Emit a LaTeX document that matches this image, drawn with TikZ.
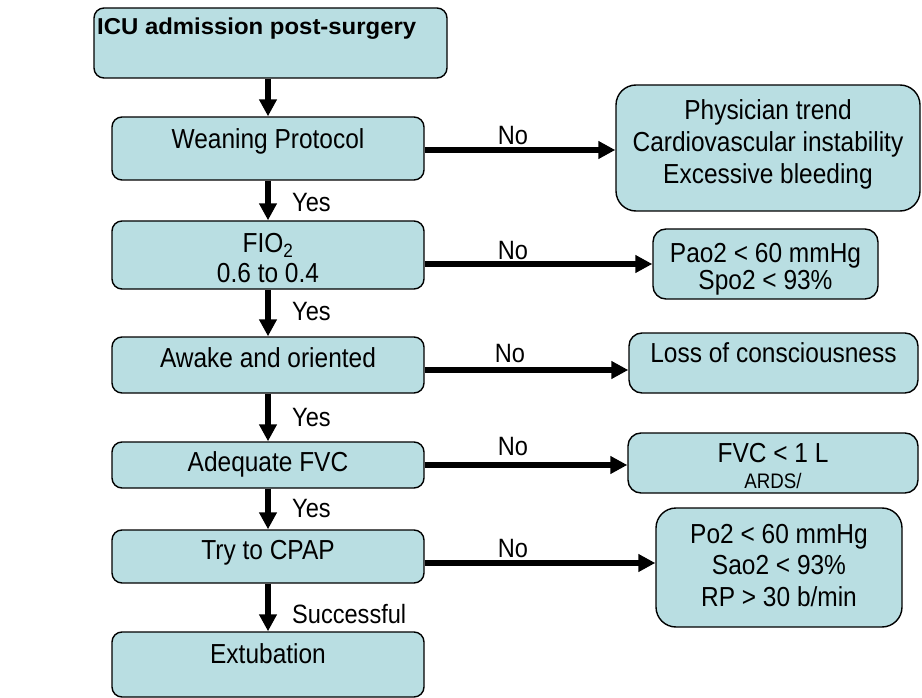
\documentclass[tikz,border=0pt]{standalone}
\usepackage{fontspec}
\setmainfont{Liberation Sans}
\newfontfamily\narrowfont[FakeStretch=0.89]{Liberation Sans}
\newfontfamily\headfont[FakeStretch=1.04]{Liberation Sans}
\usetikzlibrary{arrows.meta}
\definecolor{boxfill}{RGB}{185,222,226}
\begin{document}
\begin{tikzpicture}[x=1pt,y=-1pt,
  box/.style={draw=black, line width=1.4pt, fill=boxfill, rounded corners=10pt, inner sep=0pt},
  bigbox/.style={box, rounded corners=20pt},
  midbox/.style={box, rounded corners=13pt},
  btext/.style={font=\narrowfont\fontsize{27.5}{30}\selectfont, inner sep=0pt, anchor=base},
  small/.style={font=\narrowfont\fontsize{21}{24}\selectfont, inner sep=0pt, anchor=base},
  lab/.style={font=\narrowfont\fontsize{26.5}{30}\selectfont, inner sep=0pt, anchor=base},
  ylab/.style={lab, anchor=base west},
  flow/.style={line width=5.5pt, -{Triangle[length=17pt,width=17pt]}}
]
\useasboundingbox (0,0) rectangle (922,698);

% left column boxes
\node[box, minimum width=353pt, minimum height=70pt] (icu) at (270.5,43) {};
\node[box, minimum width=312pt, minimum height=63pt] (wean) at (268,148.5) {};
\node[box, minimum width=312pt, minimum height=68pt] (fio) at (268,255) {};
\node[box, minimum width=312pt, minimum height=56pt] (awake) at (268,365) {};
\node[box, minimum width=312pt, minimum height=46pt] (fvc) at (268,465) {};
\node[box, minimum width=312pt, minimum height=53pt] (cpap) at (268,556.5) {};
\node[box, minimum width=312pt, minimum height=65pt] (extub) at (268,664.5) {};

% right column boxes
\node[bigbox, minimum width=304pt, minimum height=126pt] (phys) at (768,148) {};
\node[midbox, minimum width=225pt, minimum height=70pt] (pao) at (765.5,264) {};
\node[midbox, minimum width=289pt, minimum height=60pt] (loss) at (773.5,363) {};
\node[midbox, minimum width=290pt, minimum height=60pt] (fvcr) at (773,463) {};
\node[bigbox, minimum width=246pt, minimum height=119pt] (po) at (779,567.5) {};

% texts
\node[font=\headfont\bfseries\fontsize{23}{26}\selectfont, inner sep=0pt, anchor=base west] (icut) at (97,35) {ICU admission post-surgery};
\node[btext] (weant) at (268,149) {Weaning Protocol};
\node[btext] (fiot1) at (268,253) {FIO\textsubscript{2}};
\node[btext] (fiot2) at (268,283) {0.6 to 0.4};
\node[btext] (awaket) at (268,367) {Awake and oriented};
\node[btext] (fvct) at (268,471) {Adequate FVC};
\node[btext] (cpapt) at (268,559) {Try to CPAP};
\node[btext] (extubt) at (268,663) {Extubation};

\node[btext] (physt1) at (768,120) {Physician trend};
\node[btext] (physt2) at (768,152) {Cardiovascular instability};
\node[btext] (physt3) at (768,184) {Excessive bleeding};
\node[btext] (paot1) at (765.5,262) {Pao2 < 60 mmHg};
\node[btext] (paot2) at (765.5,290) {Spo2 < 93\%};
\node[btext] (losst) at (773.5,362) {Loss of consciousness};
\node[btext] (fvcrt1) at (773,462) {FVC < 1 L};
\node[small] (fvcrt2) at (773,488) {ARDS/};
\node[btext] (pot1) at (779,543) {Po2 < 60 mmHg};
\node[btext] (pot2) at (779,574) {Sao2 < 93\%};
\node[btext] (pot3) at (779,606) {RP > 30 b/min};

% vertical connectors
\draw[flow] (icu.south -| wean.north) -- (wean.north);
\draw[flow] (wean.south) -- (fio.north);
\draw[flow] (fio.south) -- (awake.north);
\draw[flow] (awake.south) -- (fvc.north);
\draw[flow] (fvc.south) -- (cpap.north);
\draw[flow] (cpap.south) -- (extub.north);

% horizontal connectors
\draw[flow] ([yshift=-1.5pt]wean.east) -- ([yshift=-1.5pt]wean.east -| phys.west);
\draw[flow] (fio.east |- pao.west) -- (pao.west);
\draw[flow] ([yshift=-5pt]awake.east) -- ([yshift=-5pt]awake.east -| loss.west);
\draw[flow] (fvc.east) -- (fvc.east -| fvcr.west);
\draw[flow] ([yshift=-6.5pt]cpap.east) -- ([yshift=-6.5pt]cpap.east -| po.west);

% labels
\node[ylab] (yes1) at (292,212) {Yes};
\node[ylab] (yes2) at (292,320) {Yes};
\node[ylab] (yes3) at (292,426) {Yes};
\node[ylab] (yes4) at (292,517) {Yes};
\node[ylab] (succ) at (292,623) {Successful};
\node[lab] (no1) at (513,145) {No};
\node[lab] (no2) at (513,259) {No};
\node[lab] (no3) at (510,362) {No};
\node[lab] (no4) at (513,455) {No};
\node[lab] (no5) at (513,557) {No};
\end{tikzpicture}
\end{document}
